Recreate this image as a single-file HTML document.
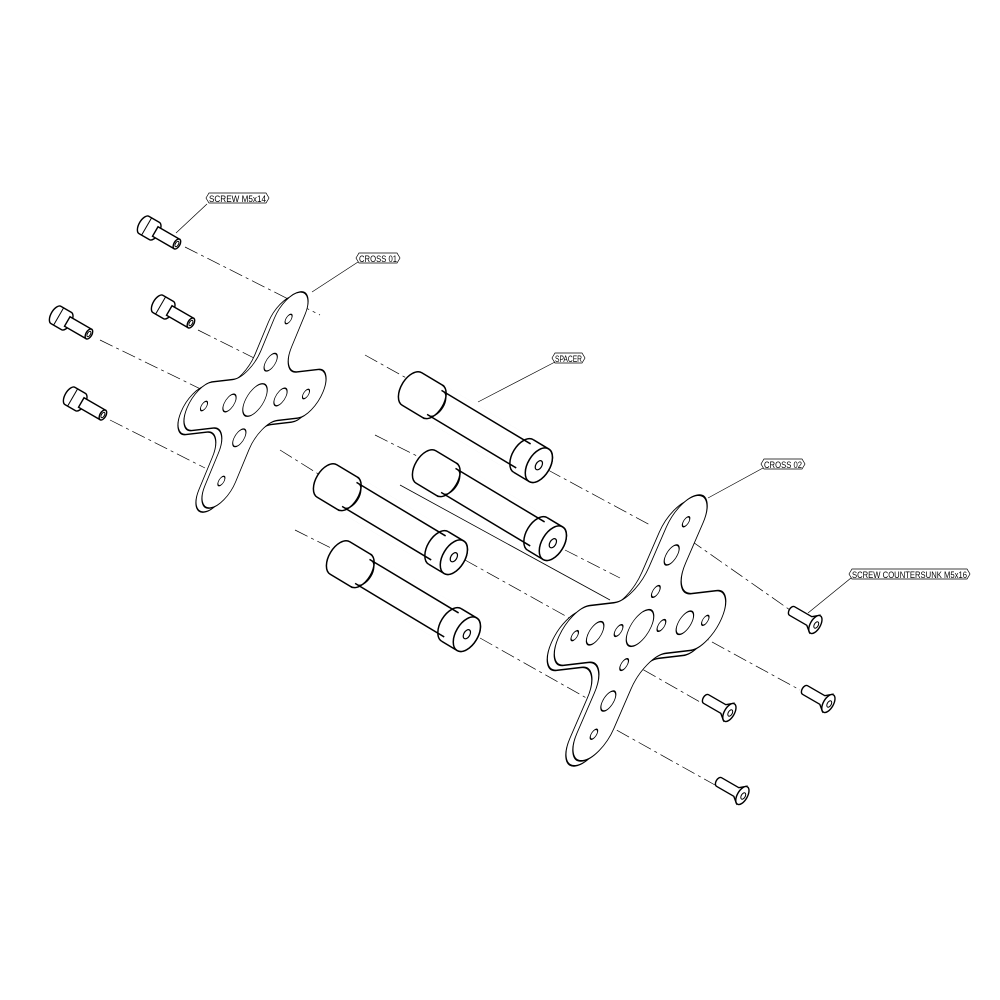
<!DOCTYPE html>
<html><head><style>body{margin:0;background:#fff}svg{display:block}text{font-family:"Liberation Sans",sans-serif;font-size:9px}</style></head>
<body>
<svg width="1000" height="1000" viewBox="0 0 1000 1000" xmlns="http://www.w3.org/2000/svg">
<defs>
<g id="spacer">
  <path d="M0,-19 L148,-19 A11,19 0 0 1 148,19 L0,19 A11,19 0 0 1 0,-19 Z" fill="#fff" stroke="#000" stroke-width="1.5"/>
  <rect x="26" y="-20" width="104" height="40" fill="#fff" stroke="none"/>
  <line x1="26" y1="-14" x2="130" y2="-14" stroke="#000" stroke-width="1.5"/>
  <line x1="26" y1="14" x2="130" y2="14" stroke="#000" stroke-width="1.5"/>
  <path d="M24,-19 A11,19 0 0 1 24,19" fill="none" stroke="#000" stroke-width="1.5"/>
  <path d="M28,-14 A8,14 0 0 1 28,14" fill="none" stroke="#000" stroke-width="1"/>
  <path d="M130,-19 A11,19 0 0 0 130,19" fill="none" stroke="#000" stroke-width="1.5"/>
  <ellipse cx="148" cy="0" rx="11" ry="19" fill="#fff" stroke="#000" stroke-width="1.5"/>
  <ellipse cx="148" cy="0" rx="3" ry="5" fill="#fff" stroke="#000" stroke-width="1.2"/>
</g>
<path id="crossShape" d="M38,-18 L62,-18 A18,18 0 0 1 62,18 L38,18 A20,20 0 0 0 18,38 L18,62 A18,18 0 0 1 -18,62 L-18,38 A20,20 0 0 0 -38,18 L-62,18 A18,18 0 0 1 -62,-18 L-38,-18 A20,20 0 0 0 -18,-38 L-18,-62 A18,18 0 0 1 18,-62 L18,-38 A20,20 0 0 0 38,-18 Z"/>
<g id="sscrew">
  <path d="M0,-10 L12,-10 A5,10 0 0 1 12,10 L0,10 A5,10 0 0 1 0,-10Z" fill="#fff" stroke="#000" stroke-width="1.4"/>
  <rect x="13" y="-5.5" width="25" height="11" fill="#fff" stroke="#000" stroke-width="1.4"/>
  <ellipse cx="38" cy="0" rx="3" ry="5.5" fill="#fff" stroke="#000" stroke-width="1.4"/>
  <ellipse cx="38" cy="0" rx="1.5" ry="3" fill="none" stroke="#000" stroke-width="1"/>
  <line x1="3" y1="-10" x2="3" y2="10" stroke="#000" stroke-width="1"/>
</g>
<g id="cscrew">
  <path d="M0,-5 L20,-5 L26,-10 L26,10 L20,5 L0,5 A3,5 0 0 1 0,-5Z" fill="#fff" stroke="#000" stroke-width="1.4"/>
  <ellipse cx="27" cy="0" rx="5" ry="10" fill="#fff" stroke="#000" stroke-width="1.4"/>
  <ellipse cx="28" cy="0" rx="2" ry="3.5" fill="none" stroke="#000" stroke-width="1"/>
</g>
</defs>

<g stroke="#000" stroke-width="0.7" stroke-dasharray="14,4,3,4" fill="none">
  <line x1="185" y1="247" x2="320" y2="315"/>
  <line x1="198" y1="330" x2="270" y2="366"/>
  <line x1="100" y1="340" x2="215" y2="396"/>
  <line x1="110" y1="420" x2="205" y2="468"/>
  <line x1="365" y1="355" x2="410" y2="380"/>
  <line x1="375" y1="435" x2="425" y2="460"/>
  <line x1="280" y1="450" x2="320" y2="475"/>
  <line x1="295" y1="530" x2="335" y2="550"/>
  <line x1="548" y1="470" x2="650" y2="525"/>
  <line x1="565" y1="550" x2="620" y2="578"/>
  <line x1="690" y1="540" x2="790" y2="610"/>
  <line x1="690" y1="630" x2="800" y2="690"/>
  <line x1="465" y1="560" x2="598" y2="634"/>
  <line x1="480" y1="638" x2="590" y2="700"/>
  <line x1="600" y1="645" x2="700" y2="702"/>
  <line x1="595" y1="718" x2="715" y2="785"/>
</g>
<line x1="400" y1="485" x2="610" y2="600" stroke="#000" stroke-width="0.8"/>

<!-- Cross 01 -->
<g fill="#fff" stroke="#000" stroke-width="1.5">
  <use href="#crossShape" transform="translate(-6,4) matrix(0.85,-0.1,-0.56,1.35,255,400)" vector-effect="non-scaling-stroke" style="stroke-width:1.1"/>
  <use href="#crossShape" transform="matrix(0.85,-0.1,-0.56,1.35,255,400)" style="stroke-width:1.1"/>
  <g transform="matrix(0.85,-0.1,-0.56,1.35,255,400)" style="stroke-width:1">
    <circle cx="0" cy="0" r="12"/>
    <circle cx="-30" cy="0" r="6.5"/>
    <circle cx="30" cy="0" r="6.5"/>
    <circle cx="0" cy="-28" r="6.5"/>
    <circle cx="0" cy="28" r="6.5"/>
    <circle cx="-60" cy="0" r="3.5"/>
    <circle cx="60" cy="0" r="3.5"/>
    <circle cx="0" cy="-60" r="3.5"/>
    <circle cx="0" cy="60" r="3.5"/>
  </g>
</g>

<!-- Spacers -->
<use href="#spacer" transform="translate(412,389) rotate(31)"/>
<use href="#spacer" transform="translate(426,467) rotate(31)"/>
<use href="#spacer" transform="translate(327,481) rotate(31)"/>
<use href="#spacer" transform="translate(340,558) rotate(31)"/>

<!-- Cross 02 -->
<g fill="#fff" stroke="#000">
  <use href="#crossShape" transform="translate(-7,5) matrix(1.02,-0.12,-0.72,1.66,640,628)" style="stroke-width:1"/>
  <use href="#crossShape" transform="matrix(1.02,-0.12,-0.72,1.66,640,628)" style="stroke-width:1"/>
  <g transform="matrix(1.02,-0.12,-0.72,1.66,640,628)" style="stroke-width:0.9">
    <circle cx="0" cy="0" r="11"/>
    <circle cx="-44" cy="0" r="7"/>
    <circle cx="44" cy="0" r="7"/>
    <circle cx="0" cy="-44" r="6"/>
    <circle cx="0" cy="44" r="6"/>
    <circle cx="-21" cy="0" r="3.5"/>
    <circle cx="21" cy="0" r="3.5"/>
    <circle cx="0" cy="-22" r="3.5"/>
    <circle cx="0" cy="22" r="3.5"/>
    <circle cx="-64" cy="0" r="3"/>
    <circle cx="64" cy="0" r="3"/>
    <circle cx="0" cy="-64" r="3"/>
    <circle cx="0" cy="64" r="3"/>
  </g>
</g>

<!-- Screws -->
<use href="#sscrew" transform="translate(144,225) rotate(30)"/>
<use href="#sscrew" transform="translate(158,304) rotate(30)"/>
<use href="#sscrew" transform="translate(56,315) rotate(30)"/>
<use href="#sscrew" transform="translate(70,396) rotate(30)"/>
<use href="#cscrew" transform="translate(792,611) rotate(30)"/>
<use href="#cscrew" transform="translate(805,690) rotate(30)"/>
<use href="#cscrew" transform="translate(706,699) rotate(30)"/>
<use href="#cscrew" transform="translate(719,782) rotate(30)"/>

<!-- Labels -->
<g stroke="#000" stroke-width="0.7" fill="none">
  <line x1="207" y1="204" x2="176" y2="233"/>
  <line x1="358" y1="262" x2="312" y2="292"/>
  <line x1="555" y1="362" x2="478" y2="402"/>
  <line x1="763" y1="468" x2="708" y2="498"/>
  <line x1="851" y1="578" x2="808" y2="613"/>
  <path d="M206,198 l3,-5 h57 l3,5 l-3,5 h-57 z"/>
  <path d="M356,258 l3,-5 h38 l3,5 l-3,5 h-38 z"/>
  <path d="M552,358 l3,-5 h27 l3,5 l-3,5 h-27 z"/>
  <path d="M761,464 l3,-5 h38 l3,5 l-3,5 h-38 z"/>
  <path d="M849,574 l3,-5 h115 l3,5 l-3,5 h-115 z"/>
</g>
<g fill="#000">
  <text x="209" y="202" textLength="57" lengthAdjust="spacingAndGlyphs">SCREW M5x14</text>
  <text x="359" y="262" textLength="38" lengthAdjust="spacingAndGlyphs">CROSS 01</text>
  <text x="555" y="362" textLength="27" lengthAdjust="spacingAndGlyphs">SPACER</text>
  <text x="764" y="468" textLength="38" lengthAdjust="spacingAndGlyphs">CROSS 02</text>
  <text x="852" y="578" textLength="115" lengthAdjust="spacingAndGlyphs">SCREW COUNTERSUNK M5x16</text>
</g>
</svg>
</body></html>
